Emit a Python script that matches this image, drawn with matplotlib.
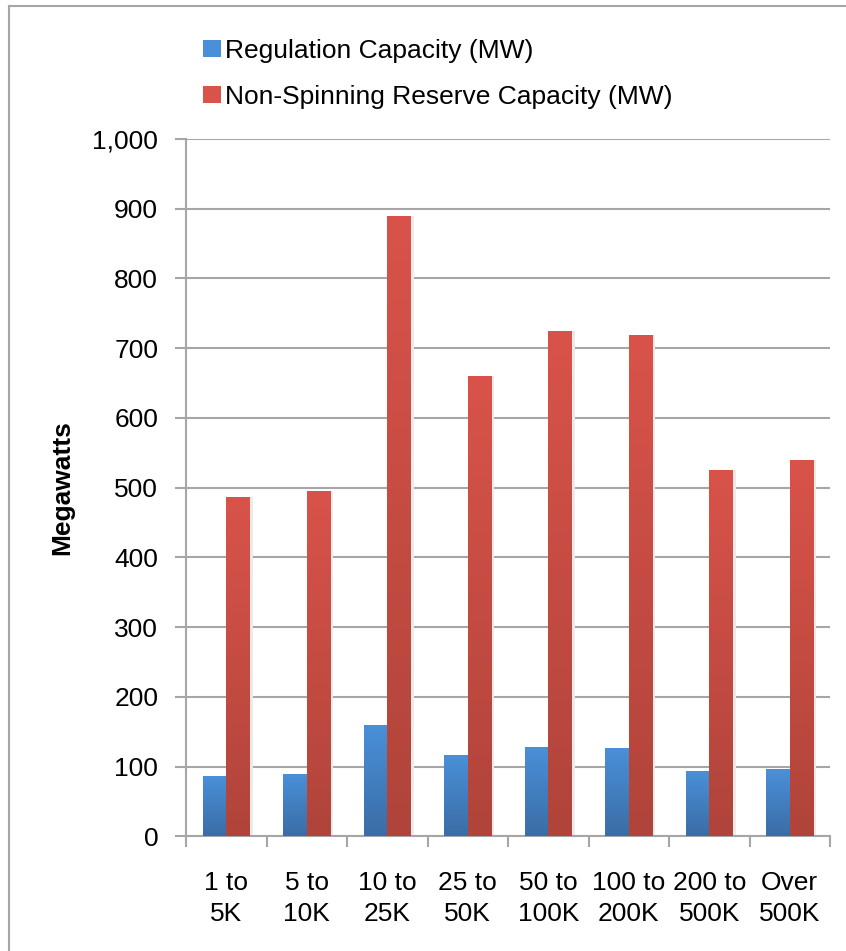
import numpy as np
import matplotlib
matplotlib.use("Agg")
from matplotlib import pyplot as plt
from matplotlib.patches import Patch
from matplotlib.lines import Line2D
from matplotlib.colors import LinearSegmentedColormap
from matplotlib.ticker import FuncFormatter

plt.rcParams['font.family'] = ['Liberation Sans', 'DejaVu Sans']

categorias = ['1 to\n5K', '5 to\n10K', '10 to\n25K', '25 to\n50K',
              '50 to\n100K', '100 to\n200K', '200 to\n500K', 'Over\n500K']
regulacion = [87, 89, 159, 117, 128, 127, 94, 96]
no_rodante = [486, 495, 890, 660, 724, 719, 526, 540]
series = ['Regulation Capacity (MW)', 'Non-Spinning Reserve Capacity (MW)']

gris = '#A6A6A6'
azul_arriba, azul_abajo = '#4A90D9', '#3A6DA6'
rojo_arriba, rojo_abajo = '#D9534A', '#B0443A'
tam = 19

fig = plt.figure(figsize=(8.46, 9.51), dpi=100)
ax = fig.add_axes([186 / 846, 1 - 836.3 / 951, (830 - 186) / 846, (836.3 - 139) / 951])

x = np.arange(len(categorias))
ancho = 0.29

def barras_degradado(posiciones, valores, arriba, abajo):
    cmap = LinearSegmentedColormap.from_list('g', [abajo, arriba])
    barras = ax.bar(posiciones, valores, ancho, color=arriba, zorder=3)
    grad = np.linspace(0, 1, 256).reshape(-1, 1)
    for b in barras:
        x0, y0 = b.get_x(), b.get_y()
        w, h = b.get_width(), b.get_height()
        # sombra suave a la derecha
        ax.add_patch(plt.Rectangle((x0 + w, y0), 0.04, h, color='#EBEBEB',
                                   zorder=2.5, lw=0))
        b.set_facecolor('none')
        img = ax.imshow(grad, extent=[x0, x0 + w, y0, y0 + h], origin='lower',
                        cmap=cmap, aspect='auto', zorder=3)
        img.set_clip_path(b)
    return barras

barras_degradado(x - ancho / 2, regulacion, azul_arriba, azul_abajo)
barras_degradado(x + ancho / 2, no_rodante, rojo_arriba, rojo_abajo)

ax.set_xlim(-0.5, len(categorias) - 0.5)
ax.set_ylim(0, 1000)
ax.set_yticks(range(0, 1001, 100))
ax.yaxis.set_major_formatter(FuncFormatter(lambda v, p: '{:,.0f}'.format(v)))
ax.yaxis.grid(True, color=gris, lw=1.5, zorder=1)
ax.set_axisbelow(True)

ax.set_xticks(x)
ax.set_xticklabels(categorias, fontsize=tam, linespacing=1.37)
ax.set_xticks(np.arange(-0.5, len(categorias)), minor=True)
ax.tick_params(axis='x', which='major', length=0, pad=25)
ax.tick_params(axis='x', which='minor', length=8, width=1.5, color=gris)
ax.tick_params(axis='y', length=8, width=1.5, color=gris, pad=12, labelsize=tam)

for lado in ['top', 'right']:
    ax.spines[lado].set_visible(False)
for lado in ['left', 'bottom']:
    ax.spines[lado].set_color(gris)
    ax.spines[lado].set_linewidth(1.5)

fig.text(62 / 846, 1 - 488 / 951, 'Megawatts', rotation=90, fontsize=tam,
         fontweight='bold', ha='center', va='center')

manejadores = [Patch(facecolor=azul_arriba, edgecolor='none'),
               Patch(facecolor=rojo_arriba, edgecolor='none')]
fig.legend(manejadores, series, loc='upper left',
           bbox_to_anchor=(192 / 846, 1 - 28 / 951), frameon=False,
           fontsize=tam, handlelength=0.7, handleheight=0.6,
           handletextpad=0.15, labelspacing=0.85, borderaxespad=0)

# marco de la figura
fig.add_artist(Line2D([9 / 846, 9 / 846], [0, 1 - 6 / 951], color=gris, lw=1.5))
fig.add_artist(Line2D([9 / 846, 1], [1 - 6 / 951, 1 - 6 / 951], color=gris, lw=1.5))

fig.savefig('out.png', dpi=100)
